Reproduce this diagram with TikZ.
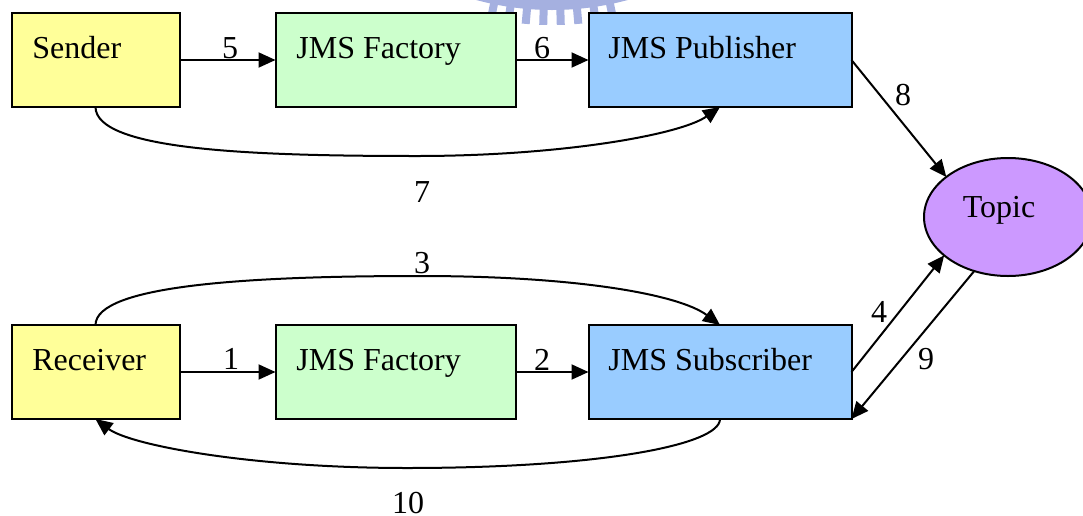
\documentclass[tikz,border=0pt]{standalone}
\usepackage{fontspec}
\setmainfont{Liberation Serif}
\usetikzlibrary{arrows.meta,shapes.geometric,calc}
\definecolor{senderyellow}{HTML}{FFFF99}
\definecolor{factorygreen}{HTML}{CCFFCC}
\definecolor{jmsblue}{HTML}{99CCFF}
\definecolor{topicpurple}{HTML}{CC99FF}
\definecolor{sealblue}{RGB}{165,176,224}

\begin{document}
\begin{tikzpicture}[x=0.5pt,y=-0.5pt,
  font=\fontsize{16}{19}\selectfont,
  box/.style={draw=black, line width=1pt, rectangle, inner sep=0pt, outer sep=0pt, minimum height=47pt},
  boxtext/.style={anchor=base west, inner sep=0pt},
  num/.style={anchor=base, inner sep=0pt},
  conn/.style={draw=black, line width=1pt, -{Triangle[length=8.5pt,width=7.5pt]}},
]
% page frame
\clip (0,0) rectangle (1083,515);

% seal watermark at the top edge
\fill[sealblue] (552,-280) circle[radius=145pt];
\foreach \a in {-11.55,-8.25,-4.95,-1.65,1.65,4.95,8.25,11.55}
  \fill[sealblue, shift={(552,-280)}, rotate=\a] (-4,285) rectangle (4,305);

% boxes
\node[box, fill=senderyellow, minimum width=84pt]   (sender)     at (95.5,60)  {};
\node[box, fill=factorygreen, minimum width=120pt]  (factoryA)   at (395.5,60) {};
\node[box, fill=jmsblue,      minimum width=131.5pt](publisher)  at (720,60)   {};
\node[box, fill=senderyellow, minimum width=84pt]   (receiver)   at (95.5,372) {};
\node[box, fill=factorygreen, minimum width=120pt]  (factoryB)   at (395.5,372){};
\node[box, fill=jmsblue,      minimum width=131.5pt](subscriber) at (720,372)  {};
\node[draw=black, line width=1pt, ellipse, fill=topicpurple, minimum width=84pt,
      minimum height=59pt, inner sep=0pt, outer sep=0pt] (topic) at (1008,217) {};

% box texts
\node[boxtext] (senderlabel)     at (32,58)   {Sender};
\node[boxtext] (factoryAlabel)   at (296,58)  {JMS Factory};
\node[boxtext] (publisherlabel)  at (608,58)  {JMS Publisher};
\node[boxtext] (receiverlabel)   at (32,370)  {Receiver};
\node[boxtext] (factoryBlabel)   at (296,370) {JMS Factory};
\node[boxtext] (subscriberlabel) at (608,370) {JMS Subscriber};
\node[num]     (topiclabel)      at (999,217) {Topic};

% connectors
\draw[conn] (sender) -- (factoryA);
\draw[conn] (factoryA) -- (publisher);
\draw[conn] (sender.south) .. controls (96,150) and (250,156) .. (417,156)
            .. controls (560,156) and (680,135) .. (publisher.south);
\draw[conn] (receiver) -- (factoryB);
\draw[conn] (factoryB) -- (subscriber);
\draw[conn] (receiver.north) .. controls (96,285) and (250,276) .. (420,276)
            .. controls (580,276) and (680,295) .. (subscriber.north);
\draw[conn] (subscriber.south) .. controls (720,445) and (600,468) .. (407,468)
            .. controls (250,468) and (130,445) .. (receiver.south);
\draw[conn] (publisher.east) -- (topic.147);
\draw[conn] (subscriber.east) -- (topic.211);
\draw[conn] (topic.238) -- (subscriber.south east);

% step numbers
\node[num] (n5)  at (230,58)  {5};
\node[num] (n6)  at (542,58)  {6};
\node[num] (n7)  at (422,202) {7};
\node[num] (n1)  at (231,369) {1};
\node[num] (n2)  at (542,370) {2};
\node[num] (n3)  at (422,273) {3};
\node[num] (n10) at (408,513) {10};
\node[num] (n8)  at (903,105) {8};
\node[num] (n4)  at (879,322) {4};
\node[num] (n9)  at (926,369) {9};
\end{tikzpicture}
\end{document}
